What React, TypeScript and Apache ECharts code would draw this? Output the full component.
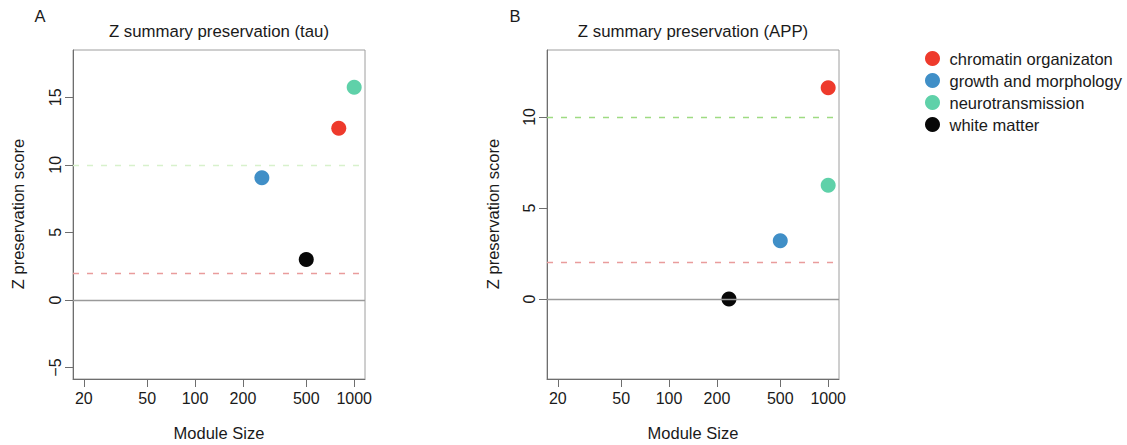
import React, { useEffect, useRef } from "react";
import * as echarts from "echarts";

// ---------- data ----------
const CATEGORIES = [
  "chromatin organizaton",
  "growth and morphology",
  "neurotransmission",
  "white matter",
];
// panel A (tau)
const TAU_SIZE = [800, 263, 1000, 500];
const TAU_Z = [12.7, 9.05, 15.75, 3.0];
// panel B (APP)
const APP_SIZE = [1000, 500, 1000, 238];
const APP_Z = [11.6, 3.2, 6.25, 0.0];

const X_TICKS = [20, 50, 100, 200, 500, 1000];
const TAU_Y_TICKS = [-5, 0, 5, 10, 15];
const APP_Y_TICKS = [0, 5, 10];
const LOW_THRESHOLD = 2;
const HIGH_THRESHOLD = 10;

// ---------- styles ----------
const COLORS = ["#ee3a2c", "#408fc7", "#5fd1a9", "#080808"];
const FONT = "Liberation Sans, Arial, Helvetica, sans-serif";
const TXT = "#1a1a1a";
const AX = "#6e6e6e";

const lg = (v: number) => Math.log10(v);
const X_MIN = lg(20) - 0.04 * lg(50);
const X_MAX = 3 + 0.04 * lg(50);

function xAxisCfg(gridIndex: number) {
  return {
    type: "value",
    gridIndex,
    min: X_MIN,
    max: X_MAX,
    axisLine: { show: true, onZero: false, lineStyle: { color: AX, width: 1 } },
    axisTick: {
      show: true,
      length: 8,
      customValues: X_TICKS.map(lg),
      lineStyle: { color: AX, width: 1 },
    },
    axisLabel: {
      show: true,
      customValues: X_TICKS.map(lg),
      margin: 11,
      fontSize: 16,
      fontFamily: FONT,
      color: TXT,
      formatter: (v: number) => String(Math.round(Math.pow(10, v))),
    },
    splitLine: { show: false },
  };
}

function yAxisCfg(gridIndex: number, min: number, max: number, ticks: number[]) {
  return {
    type: "value",
    gridIndex,
    min,
    max,
    axisLine: { show: true, onZero: false, lineStyle: { color: AX, width: 1 } },
    axisTick: {
      show: true,
      length: 8,
      customValues: ticks,
      lineStyle: { color: AX, width: 1 },
    },
    axisLabel: {
      show: true,
      customValues: ticks,
      rotate: 90,
      margin: 10,
      fontSize: 16,
      fontFamily: FONT,
      color: TXT,
      formatter: (v: number) => (v < 0 ? "\u2212" + Math.abs(v) : String(v)),
    },
    splitLine: { show: false },
  };
}

function refLines(highColor: string) {
  return {
    silent: true,
    symbol: "none",
    label: { show: false },
    emphasis: { disabled: true },
    data: [
      { yAxis: 0, lineStyle: { color: "#9a9a9a", type: "solid", width: 1.3 } },
      {
        yAxis: LOW_THRESHOLD,
        lineStyle: { color: "#e99c9c", type: [6, 8], width: 1.3 },
      },
      {
        yAxis: HIGH_THRESHOLD,
        lineStyle: { color: highColor, type: [6, 8], width: 1.3 },
      },
    ],
  };
}

function panelSeries(idx: number, sizes: number[], zs: number[], highColor: string) {
  return CATEGORIES.map((name, i) => ({
    type: "scatter",
    name,
    xAxisIndex: idx,
    yAxisIndex: idx,
    symbol: "circle",
    symbolSize: 15,
    z: 3,
    itemStyle: { color: COLORS[i], opacity: 1 },
    data: [[lg(sizes[i]), zs[i]]],
    markLine: i === 0 ? refLines(highColor) : undefined,
  }));
}

function txt(text: string, x: number, y: number, rotation = 0, size = 16.5) {
  return {
    type: "text",
    x,
    y,
    rotation,
    style: {
      text,
      fill: TXT,
      font: `${size}px ${FONT}`,
      textAlign: "center",
      textVerticalAlign: "middle",
    },
  };
}

export default function App() {
  const ref = useRef<HTMLDivElement>(null);
  useEffect(() => {
    document.body.style.margin = "0";
    if (!ref.current) return;
    const chart = echarts.init(ref.current, undefined, { renderer: "svg" });
    chart.setOption({
      animation: false,
      backgroundColor: "#ffffff",
      grid: [
        { left: 73, top: 50, width: 292, height: 329, show: true, borderColor: "#9e9e9e", borderWidth: 1, backgroundColor: "transparent" },
        { left: 547, top: 50, width: 292, height: 329, show: true, borderColor: "#9e9e9e", borderWidth: 1, backgroundColor: "transparent" },
      ],
      xAxis: [xAxisCfg(0), xAxisCfg(1)],
      yAxis: [
        yAxisCfg(0, -5.85, 18.5, TAU_Y_TICKS),
        yAxisCfg(1, -4.4, 13.68, APP_Y_TICKS),
      ],
      legend: {
        orient: "vertical",
        left: 925,
        top: 50,
        padding: 0,
        icon: "circle",
        itemWidth: 24,
        itemHeight: 15,
        itemGap: 5,
        selectedMode: false,
        data: CATEGORIES,
        textStyle: { fontSize: 16.5, fontFamily: FONT, color: TXT, lineHeight: 16 },
      },
      graphic: [
        txt("A", 40, 16),
        txt("B", 515, 16),
        txt("Z summary preservation (tau)", 219, 31, 0, 16.8),
        txt("Z summary preservation (APP)", 693, 31, 0, 16.8),
        txt("Z preservation score", 18, 214, Math.PI / 2),
        txt("Z preservation score", 493, 214, Math.PI / 2),
        txt("Module Size", 219, 433),
        txt("Module Size", 693, 433),
      ],
      series: [
        ...panelSeries(0, TAU_SIZE, TAU_Z, "#d8f1cc"),
        ...panelSeries(1, APP_SIZE, APP_Z, "#9edb82"),
      ],
    });
    return () => chart.dispose();
  }, []);
  return <div ref={ref} style={{ width: 1127, height: 445 }} />;
}
